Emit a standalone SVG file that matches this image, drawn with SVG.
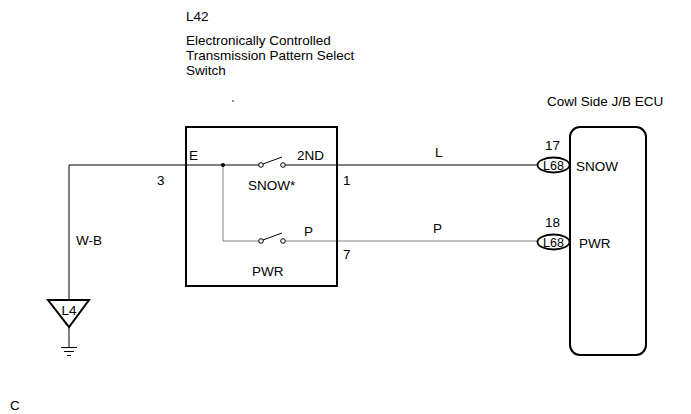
<svg xmlns="http://www.w3.org/2000/svg" width="691" height="414" viewBox="0 0 691 414">
<style>
text{font-family:"Liberation Sans",Arial,sans-serif;font-size:13.5px;fill:#000}
.w{fill:none;stroke:#000;stroke-width:1}
.g{fill:none;stroke:#808080;stroke-width:1}
.box{fill:none;stroke:#000;stroke-width:2}
.sw{fill:#fff;stroke:#000;stroke-width:1}
.ov{fill:#fff;stroke:#000;stroke-width:1.8}
.ot{font-size:12.5px}
</style>
<rect width="691" height="414" fill="#fff"/>
<g id="title">
<text x="186" y="21">L42</text>
<text x="186" y="45">Electronically Controlled</text>
<text x="186" y="60">Transmission Pattern Select</text>
<text x="186" y="75">Switch</text>
<circle cx="233" cy="101" r="0.8" fill="#000"/>
</g>
<g id="connectors">
<polyline class="w" points="69,300 69,165 259,165"/>
<line class="w" x1="284" y1="165" x2="538" y2="165"/>
<polyline class="g" points="223,165 223,241 259,241"/>
<line class="g" x1="284" y1="241" x2="538" y2="241"/>
<circle cx="223" cy="165" r="2" fill="#000"/>
<text x="76" y="245">W-B</text>
<text x="435" y="157">L</text>
<text x="433" y="233">P</text>
</g>
<g id="L42">
<rect class="box" x="186" y="127" width="151" height="159"/>
<circle class="sw" cx="261" cy="165" r="2.3"/>
<circle class="sw" cx="283" cy="165" r="2.3"/>
<circle class="sw" cx="261" cy="241" r="2.3"/>
<circle class="sw" cx="283" cy="241" r="2.3"/>
<line class="w" x1="263" y1="164" x2="282" y2="157"/>
<line class="w" x1="263" y1="240" x2="282" y2="233"/>
<text x="189" y="160">E</text>
<text x="297" y="160">2ND</text>
<text x="157" y="185">3</text>
<text x="343" y="185">1</text>
<text x="248" y="190">SNOW*</text>
<text x="304" y="236">P</text>
<text x="343" y="259">7</text>
<text x="252" y="276">PWR</text>
</g>
<g id="ECU">
<text x="547" y="106">Cowl Side J/B ECU</text>
<rect class="box" x="570" y="127" width="76" height="228" rx="10"/>
<ellipse class="ov" cx="553.5" cy="165" rx="16" ry="7.5"/>
<ellipse class="ov" cx="553.5" cy="242" rx="16" ry="7.5"/>
<text class="ot" x="553.5" y="169.5" text-anchor="middle">L68</text>
<text class="ot" x="553.5" y="246.5" text-anchor="middle">L68</text>
<text x="545" y="150">17</text>
<text x="545" y="227">18</text>
<text x="576" y="171">SNOW</text>
<text x="579" y="248">PWR</text>
</g>
<g id="L4">
<polygon points="48,300 89,300 69,327" fill="#fff" stroke="#000" stroke-width="2"/>
<text x="69" y="315" text-anchor="middle">L4</text>
<line class="w" x1="69" y1="327" x2="69" y2="347"/>
<line class="w" x1="61" y1="347.5" x2="77" y2="347.5"/>
<line class="w" x1="64" y1="351.5" x2="74" y2="351.5"/>
<line class="w" x1="67" y1="355.5" x2="71" y2="355.5"/>
</g>
<text x="10" y="410">C</text>
</svg>
